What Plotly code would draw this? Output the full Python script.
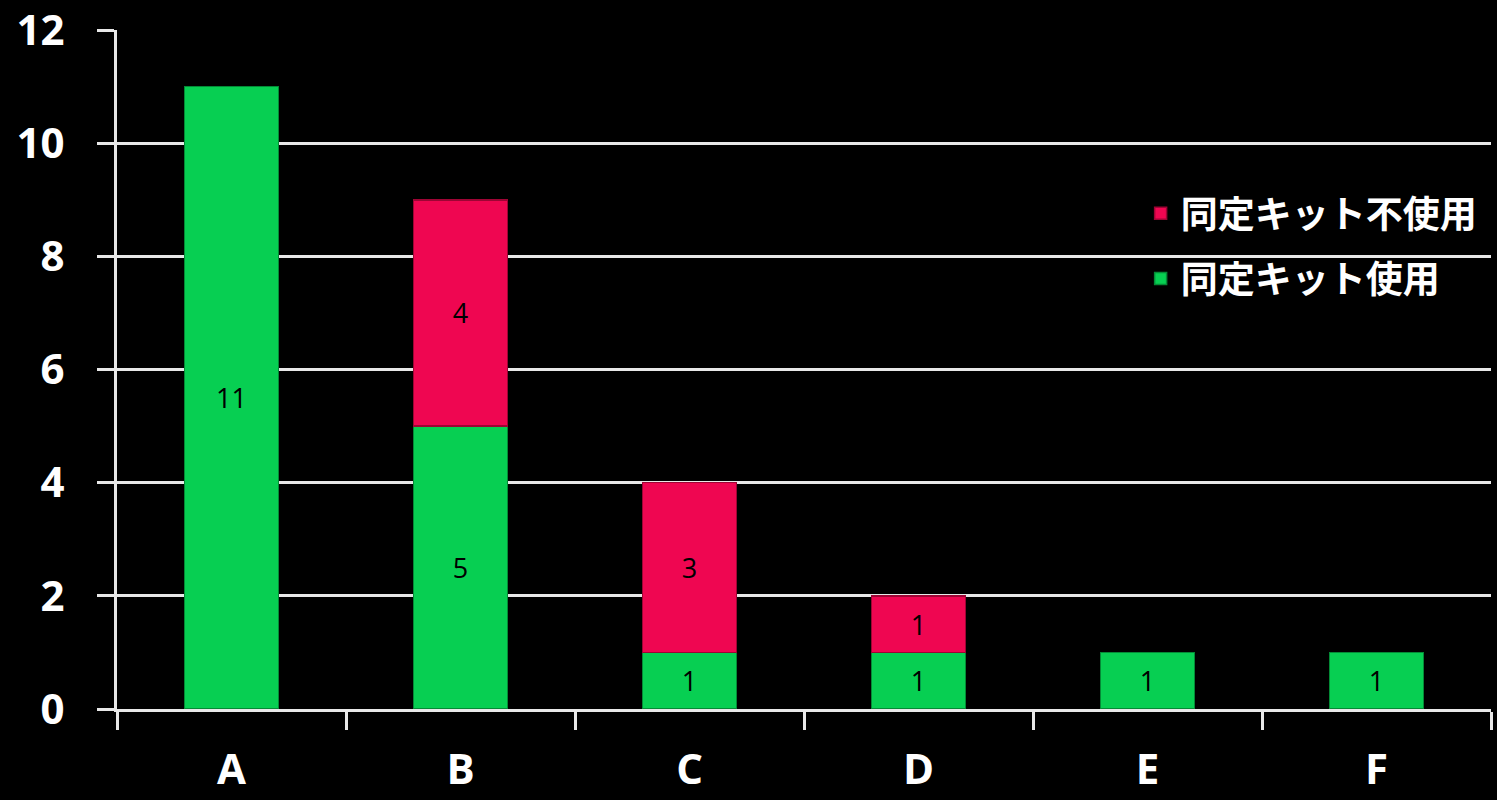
import plotly.graph_objects as go

categories = ["A", "B", "C", "D", "E", "F"]
kit_used = [11, 5, 1, 1, 1, 1]
kit_not_used = [None, 4, 3, 1, None, None]
name_used = "同定キット使用"
name_not_used = "同定キット不使用"
y_ticks = [0, 2, 4, 6, 8, 10, 12]

green = "#07CF52"
red = "#EF0651"

fig = go.Figure()
fig.add_trace(go.Bar(
    x=categories, y=kit_used, name=name_used, legendgroup="used", legendrank=2,
    marker=dict(color=green, line=dict(color="#048a36", width=1.5)),
    text=[str(v) for v in kit_used], textposition="inside", insidetextanchor="middle",
    textfont=dict(color="black", size=27, family="Open Sans"),
))
fig.add_trace(go.Bar(
    x=categories, y=kit_not_used, name=name_not_used, legendgroup="notused", legendrank=1,
    marker=dict(color=red, line=dict(color="#9e0434", width=1.5)),
    text=["" if v is None else str(v) for v in kit_not_used], textposition="inside",
    insidetextanchor="middle",
    textfont=dict(color="black", size=27, family="Open Sans"),
))

fig.update_layout(
    width=1497, height=800,
    barmode="stack", bargap=0.59,
    paper_bgcolor="black", plot_bgcolor="black",
    margin=dict(l=117, r=6, t=30, b=91),
    font=dict(family="Open Sans", color="white"),
    legend=dict(
        x=0.745, y=0.775, xanchor="left", yanchor="top",
        traceorder="grouped", tracegroupgap=14,
        font=dict(family="Noto Sans CJK JP", size=37, color="white", weight="bold"),
        bgcolor="rgba(0,0,0,0)",
    ),
    showlegend=True,
    uniformtext=dict(minsize=20, mode="show"),
)
fig.update_yaxes(
    range=[0, 12], tickvals=y_ticks, showgrid=True, gridcolor="#e8e8e8", gridwidth=3,
    showline=True, linecolor="#e8e8e8", linewidth=3,
    ticks="outside", ticklen=17, tickwidth=3, tickcolor="#e8e8e8",
    ticklabelstandoff=24, automargin=False, ticklabeloverflow="allow",
    tickfont=dict(size=42, color="white", family="Open Sans", weight="bold"),
    zeroline=False,
)
fig.update_xaxes(
    showline=True, linecolor="#e8e8e8", linewidth=3,
    ticks="outside", tickson="boundaries", ticklen=18, tickwidth=3, tickcolor="#e8e8e8",
    ticklabelstandoff=22, automargin=False, ticklabeloverflow="allow",
    tickfont=dict(size=42, color="white", family="Open Sans", weight="bold"),
    showgrid=False,
)

fig.write_html("out.html")
